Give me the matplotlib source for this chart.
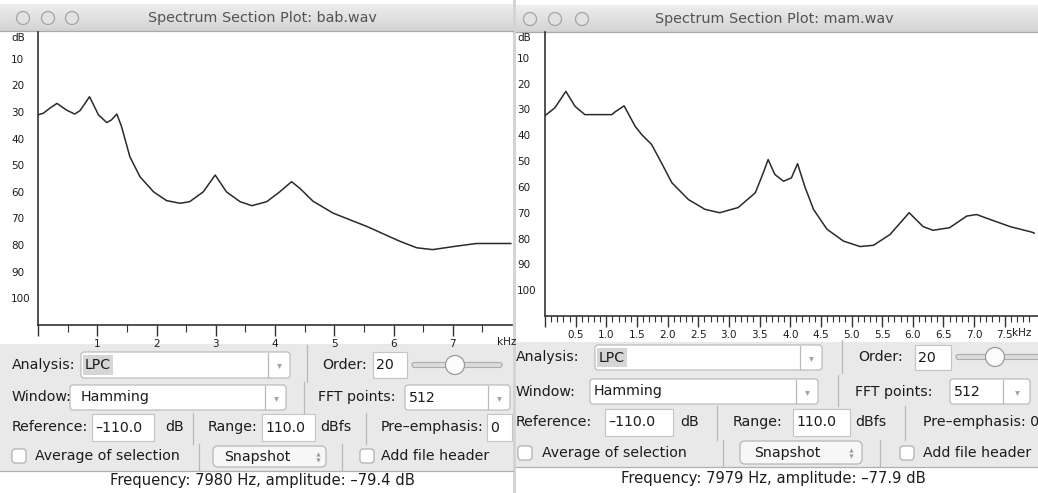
import numpy as np
import matplotlib
matplotlib.use("Agg")
import matplotlib.pyplot as plt
from matplotlib.patches import FancyBboxPatch, Rectangle, Circle
from matplotlib.colors import LinearSegmentedColormap

# LPC spectrum, bab.wav (kHz, dB below reference)
bab_khz = [0.00, 0.09, 0.20, 0.32, 0.48, 0.62, 0.71, 0.87, 1.02, 1.16, 1.24, 1.33,
           1.41, 1.55, 1.72, 1.95, 2.17, 2.40, 2.56, 2.79, 2.99, 3.18, 3.41, 3.61,
           3.86, 4.08, 4.28, 4.42, 4.64, 4.98, 5.55, 6.10, 6.39, 6.66, 7.06, 7.40, 7.98]
bab_db = [31.1, 30.5, 28.6, 26.8, 29.3, 30.8, 29.5, 24.3, 31.1, 34.0, 33.0, 30.8,
          35.5, 46.8, 54.3, 60.0, 63.3, 64.3, 63.7, 60.0, 53.7, 60.0, 63.7, 65.2,
          63.7, 60.0, 56.2, 58.7, 63.5, 68.0, 73.0, 78.5, 81.0, 81.7, 80.4, 79.4, 79.4]

# LPC spectrum, mam.wav
mam_khz = [0.00, 0.16, 0.34, 0.49, 0.65, 1.09, 1.14, 1.29, 1.47, 1.58, 1.74, 1.90,
           2.07, 2.34, 2.61, 2.85, 3.15, 3.43, 3.56, 3.64, 3.75, 3.89, 4.02, 4.12,
           4.24, 4.38, 4.60, 4.87, 5.14, 5.36, 5.63, 5.94, 6.17, 6.33, 6.60, 6.88,
           7.04, 7.26, 7.59, 7.94, 7.98]
mam_db = [32.4, 29.4, 23.0, 28.8, 32.0, 32.0, 31.0, 28.6, 36.5, 39.8, 43.6, 50.7,
          58.4, 64.9, 68.7, 70.0, 68.0, 62.3, 54.6, 49.4, 55.2, 57.8, 56.5, 51.0,
          60.0, 68.7, 76.4, 81.0, 83.1, 82.6, 78.4, 70.0, 75.4, 76.8, 75.8, 71.3,
          70.7, 72.6, 75.4, 77.5, 77.9]

db_ticks = [10, 20, 30, 40, 50, 60, 70, 80, 90, 100]
bab_xticks = [0, 1, 2, 3, 4, 5, 6, 7]
bab_xlabels = ["", "1", "2", "3", "4", "5", "6", "7"]
mam_xticks = [0, 0.5, 1, 1.5, 2, 2.5, 3, 3.5, 4, 4.5, 5, 5.5, 6, 6.5, 7, 7.5]
mam_xlabels = ["", "0.5", "1.0", "1.5", "2.0", "2.5", "3.0", "3.5", "4.0", "4.5",
               "5.0", "5.5", "6.0", "6.5", "7.0", "7.5"]

W, H = 1038, 493
fig = plt.figure(figsize=(W / 100, H / 100), dpi=100)
fig.patch.set_facecolor("white")

# pixel-space background for the two windows
bg = fig.add_axes([0, 0, 1, 1])
bg.set_axis_off()
TXT = "#1c1c1c"
PANEL = "#e9e9e9"
EDGE = "#b6b6b6"
FS = 10.2


def rect(x0, y0, x1, y1, fc, ec="none", lw=0.8):
    bg.add_patch(Rectangle((x0, y0), x1 - x0, y1 - y0, fc=fc, ec=ec, lw=lw))


def rbox(x0, y0, x1, y1, fc="white", ec=EDGE, r=3):
    bg.add_patch(FancyBboxPatch((x0, y0), x1 - x0, y1 - y0,
                                boxstyle="round,pad=0,rounding_size=%g" % r,
                                fc=fc, ec=ec, lw=0.8))


def label(x, y, s, **kw):
    kw.setdefault("fontsize", FS)
    kw.setdefault("color", TXT)
    kw.setdefault("ha", "left")
    return bg.text(x, y, s, va="center", **kw)


def vsep(x, y0, y1):
    bg.plot([x, x], [y0, y1], color="#b8b8b8", lw=0.9)


def combo(x0, y0, x1, y1, s, sep, hl=False, off=4):
    rbox(x0, y0, x1, y1)
    if hl:
        rect(x0 + 2, y0 + 3, x0 + 32, y1 - 3, "#d6d6d6")
    label(x0 + off, (y0 + y1) / 2, s)
    vsep(sep, y0 + 1, y1 - 1)
    bg.plot([(sep + x1) / 2], [(y0 + y1) / 2 + 1], marker="v", ms=3.5,
            color="#a0a0a0", mec="none")


def tbox(x0, y0, x1, y1, s):
    rect(x0, y0, x1, y1, "white", "#c4c4c4")
    label(x0 + 3, (y0 + y1) / 2, s)


def checkbox(x, y):
    rbox(x, y - 7, x + 14, y + 7, fc="white", ec="#a8a8a8", r=3)


def button(x0, y0, x1, y1, s, tx, ax_):
    rbox(x0, y0, x1, y1, fc="#f7f7f7", ec="#b0b0b0", r=5)
    yc = (y0 + y1) / 2
    label(tx, yc, s, ha="center")
    bg.plot([ax_], [yc - 3], marker="^", ms=3, color="#999999", mec="none")
    bg.plot([ax_], [yc + 3], marker="v", ms=3, color="#999999", mec="none")


def slider(x0, x1, y, knob):
    rbox(x0, y - 2.5, x1, y + 2.5, fc="#dcdcdc", ec="#acacac", r=2.5)
    bg.add_patch(Circle((knob, y), 9.5, fc="#fbfbfb", ec="#9a9a9a", lw=0.9))


def window(x0, x1, top, plot_bot, status_top, title, tcx, lights):
    grad = LinearSegmentedColormap.from_list("tb", ["#eeeeee", "#d3d3d3"])
    bg.imshow(np.linspace(0, 1, 40)[:, None], cmap=grad, aspect="auto",
              extent=(x0, x1, top + 27, top), zorder=0)
    bg.plot([x0, x1], [top + 27, top + 27], color="#a9a9a9", lw=0.9)
    for cx in lights:
        bg.add_patch(Circle((cx, top + 14), 6.5, fc="#e2e2e2", ec="#a4a4a4", lw=0.9))
    label(tcx, top + 14, title, ha="center", fontsize=10.4, color="#545454")
    rect(x0, plot_bot, x1, status_top, PANEL)
    bg.plot([x0, x1], [status_top, status_top], color="#b0b0b0", lw=0.9)


# ---- left window (bab.wav)
window(0, 513, 4, 344, 471, "Spectrum Section Plot: bab.wav", 262, [23, 48, 72])
label(12, 365, "Analysis:")
combo(81, 352, 290, 378, "LPC", 268, hl=True)
vsep(307, 345, 382)
label(322, 365, "Order:")
tbox(373, 352, 407, 378, "20")
slider(412, 502, 365, 455)
label(12, 397, "Window:")
combo(70, 385, 286, 410, "Hamming", 265, off=11)
vsep(304, 382, 413)
label(318, 397, "FFT points:")
combo(405, 385, 510, 410, "512", 488)
label(12, 427, "Reference:")
tbox(92, 414, 154, 441, "–110.0")
label(165, 427, "dB")
vsep(193, 413, 444)
label(208, 427, "Range:")
tbox(262, 414, 315, 441, "110.0")
label(320, 427, "dBfs")
vsep(366, 413, 444)
label(381, 427, "Pre–emphasis:")
tbox(487, 414, 512, 441, "0")
checkbox(12, 456)
label(35, 456, "Average of selection")
vsep(199, 444, 471)
button(213, 446, 326, 467, "Snapshot", 257, 318)
vsep(342, 444, 471)
checkbox(360, 456)
label(381, 456, "Add file header")
label(262, 481, "Frequency: 7980 Hz, amplitude: –79.4 dB", ha="center", fontsize=10.6)

# thin border between the windows
rect(513, 0, 516, H, "#d4d4d4")

# ---- right window (mam.wav)
window(516, W, 5, 342, 467, "Spectrum Section Plot: mam.wav", 774, [530, 555, 582])
label(516, 357, "Analysis:")
combo(595, 345, 822, 370, "LPC", 800, hl=True)
vsep(842, 340, 373)
label(858, 357, "Order:")
tbox(915, 345, 951, 370, "20")
slider(956, 1045, 357, 995)
label(516, 392, "Window:")
combo(590, 379, 818, 404, "Hamming", 796)
vsep(838, 375, 406)
label(855, 392, "FFT points:")
combo(950, 379, 1030, 404, "512", 1003)
label(516, 422, "Reference:")
tbox(605, 409, 673, 436, "–110.0")
label(680, 422, "dB")
vsep(717, 406, 440)
label(733, 422, "Range:")
tbox(793, 409, 850, 436, "110.0")
label(855, 422, "dBfs")
vsep(905, 406, 440)
label(923, 422, "Pre–emphasis: 0")
checkbox(518, 453)
label(542, 453, "Average of selection")
vsep(723, 440, 467)
button(740, 441, 862, 464, "Snapshot", 787, 851)
vsep(880, 440, 467)
checkbox(900, 453)
label(923, 453, "Add file header")
label(773, 479, "Frequency: 7979 Hz, amplitude: –77.9 dB", ha="center", fontsize=10.6)

bg.set_xlim(0, W)
bg.set_ylim(H, 0)

# unit / dB captions
label(11, 38, "dB", fontsize=7.5)
label(517, 38, "dB", fontsize=7.5)
khz = label(497, 342, "kHz", fontsize=7.5)
khz.set_clip_path(Rectangle((0, 0), 513, H, transform=bg.transData))
label(1012, 333, "kHz", fontsize=7.5)


def spectrum(ax, f, a, xlim, ticks, labels, minor, maj_len, min_len, ypad):
    ax.patch.set_alpha(0)
    ax.plot(f, a, color="#2a2a2a", lw=1.1)
    ax.set_xlim(*xlim)
    ax.set_ylim(110, 0)
    for s in ["top", "right"]:
        ax.spines[s].set_visible(False)
    for s in ["left", "bottom"]:
        ax.spines[s].set_color("#333333")
        ax.spines[s].set_linewidth(1.2)
    ax.set_xticks(ticks)
    ax.set_xticklabels(labels)
    ax.set_xticks(minor, minor=True)
    ax.tick_params(axis="x", which="major", length=maj_len, width=1.0,
                   color="#333333", pad=2, labelsize=7.5, labelcolor=TXT)
    ax.tick_params(axis="x", which="minor", length=min_len, width=0.8, color="#333333")
    ax.set_yticks(db_ticks)
    ax.set_yticklabels([str(v) for v in db_ticks])
    ax.tick_params(axis="y", length=0, pad=ypad, labelsize=7.5, labelcolor=TXT)
    for t in ax.get_yticklabels():
        t.set_horizontalalignment("left")


ax1 = fig.add_axes([38 / W, 1 - 325 / H, 474 / W, 293 / H])
spectrum(ax1, bab_khz, bab_db, (0, 8), bab_xticks, bab_xlabels,
         [0.5, 1.5, 2.5, 3.5, 4.5, 5.5, 6.5, 7.5], 8, 5, 27 * 0.72)

ax2 = fig.add_axes([545 / W, 1 - 316 / H, (W - 545) / W, 284 / H])
spectrum(ax2, mam_khz, mam_db, (0, (W - 545) / 61.3), mam_xticks, mam_xlabels,
         [i / 10 for i in range(1, 81) if i % 5 != 0], 8, 4, 28 * 0.72)

fig.savefig("out.png", dpi=100)
